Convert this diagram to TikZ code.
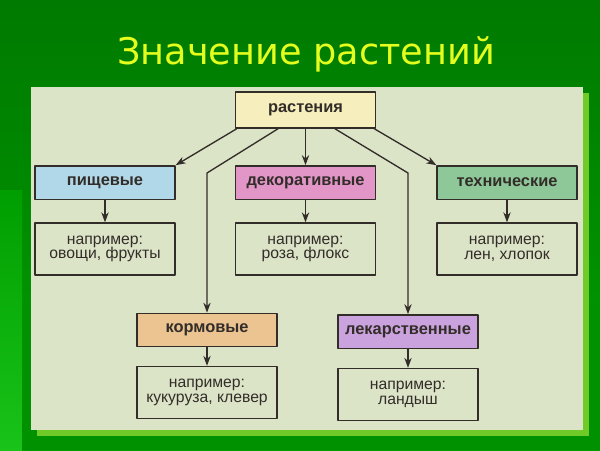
\documentclass[tikz,border=0pt]{standalone}
\usepackage{fontspec}
\setmainfont{Liberation Sans}
\newfontfamily\titlefont{DejaVu Sans}
\usetikzlibrary{arrows.meta}
\definecolor{bgdark}{RGB}{0,122,0}
\definecolor{bglight}{RGB}{0,158,0}
\definecolor{bgbright}{RGB}{25,195,25}
\definecolor{frame}{RGB}{112,202,40}
\definecolor{paper}{RGB}{220,228,200}
\definecolor{ink}{RGB}{50,45,40}
\definecolor{ctitle}{RGB}{228,255,30}
\definecolor{cyellow}{RGB}{246,238,188}
\definecolor{cblue}{RGB}{176,216,232}
\definecolor{cpink}{RGB}{226,150,200}
\definecolor{cgreen}{RGB}{142,200,152}
\definecolor{corange}{RGB}{236,196,146}
\definecolor{clilac}{RGB}{202,162,222}
\begin{document}
\begin{tikzpicture}[x=0.75pt, y=-0.75pt, line join=round, line cap=round, >={Stealth[length=7.5pt,width=5.5pt]},
	kind/.style={draw=ink, line width=1pt, minimum width=105pt, minimum height=25pt, inner sep=0pt, text=ink, font=\fontsize{12.3}{13}\selectfont\bfseries},
	example/.style={draw=ink, line width=1pt, fill=paper, minimum width=105pt, minimum height=39pt, inner sep=0pt, align=center, text=ink, font=\fontsize{11.8}{11}\selectfont},
	link/.style={draw=ink, line width=1pt, ->}]
	\def\xl{105} \def\xm{305.5} \def\xr{507} % cot
	\def\yk{182.5} \def\ye{249} % hang
	\useasboundingbox (0,0) rectangle (600,450);
	% nen
	\shade[top color=bgdark, bottom color=bglight] (0,0) rectangle (600,450);
	\shade[top color=bglight, bottom color=bgbright] (0,190) rectangle (22,450);
	\fill[bglight!92!black] (22,303) rectangle (600,450);
	\fill[frame] (37,93) rectangle (589,436);
	\fill[paper] (31,87) rectangle (583,430);
	\node[anchor=base, text=ctitle, font=\titlefont\fontsize{27.5}{30}\selectfont] (title) at (306,64) {Значение растений};
	% so do
	\node[kind, fill=cyellow, minimum height=27pt] (rast) at (\xm,110) {растения};
	\node[kind, fill=cblue] (pish) at (\xl,\yk) {пищевые};
	\node[kind, fill=cpink] (dekor) at (\xm,\yk) {декоративные};
	\node[kind, fill=cgreen] (tekh) at (\xr,\yk) {технические};
	\node[example] (pishex) at (\xl,\ye) {например:\\овощи, фрукты};
	\node[example] (dekorex) at (\xm,\ye) {например:\\роза, флокс};
	\node[example] (tekhex) at (\xr,\ye) {например:\\лен, хлопок};
	\node[kind, fill=corange] (korm) at (207,330) {кормовые};
	\node[kind, fill=clilac] (lek) at (408,331.5) {лекарственные};
	\node[example] (kormex) at (207,392.5) {например:\\кукуруза, клевер};
	\node[example] (lekex) at (408,394.5) {например:\\ландыш};
	\coordinate (kbend) at (207,173);
	\coordinate (lbend) at (408,173);
	\draw[link] ([xshift=1.5pt]rast.south west) -- (pish.north east);
	\draw[link] ([xshift=-20.5pt]rast.south) -- (kbend) -- (korm.north);
	\draw[link] (rast.south) -- (dekor.north);
	\draw[link] ([xshift=22pt]rast.south) -- (lbend) -- (lek.north);
	\draw[link] ([xshift=-1.5pt]rast.south east) -- (tekh.north west);
	\foreach \a in {pish,dekor,tekh,korm,lek}
		\draw[link] (\a.south) -- (\a ex.north);
\end{tikzpicture}
\end{document}
